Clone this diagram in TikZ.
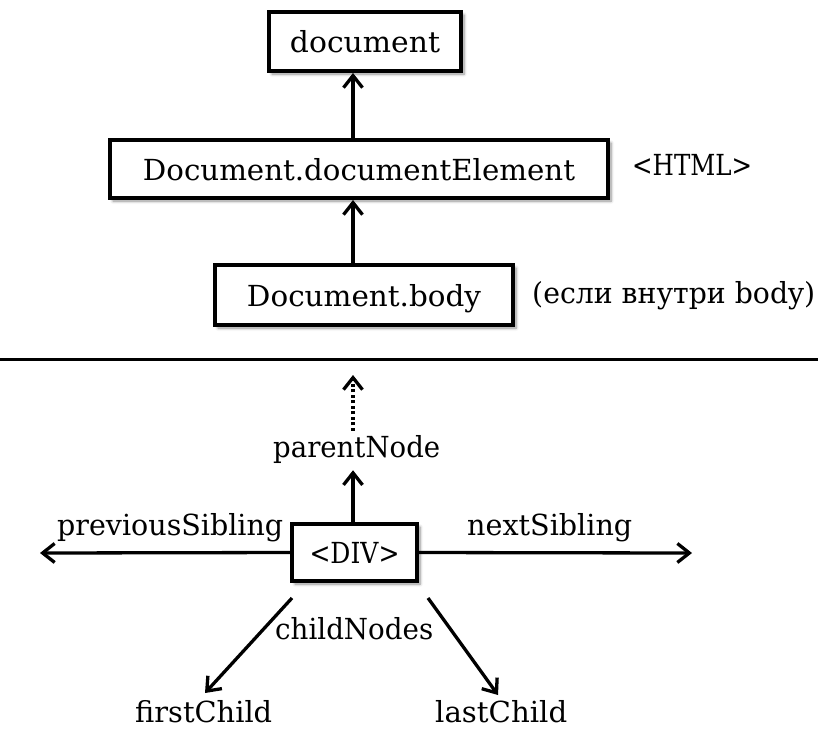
\documentclass[tikz,border=0pt]{standalone}
\usepackage{fontspec}
\setmainfont{DejaVu Serif}
\usepackage{graphicx}
\usetikzlibrary{arrows.meta,shadows.blur}
\newcommand{\fitw}[2]{\resizebox{#1pt}{\height}{#2}}
\begin{document}
\begin{tikzpicture}[x=1pt,y=-1pt,
  font=\fontsize{29}{34}\selectfont,
  box/.style={draw, line width=4pt, fill=white, inner sep=0pt, text depth=0pt,
    blur shadow={shadow xshift=3pt, shadow yshift=-3pt, shadow opacity=45, shadow blur steps=6, shadow blur radius=3pt}},
  lbl/.style={inner sep=0pt, anchor=base west},
  arr/.style={line width=3.3pt, -{Straight Barb[length=12pt,width=19pt,line width=3.3pt]}},
  dotarr/.style={arr, dash pattern=on 3pt off 2.5pt},
  sep/.style={line width=3pt},
]
\useasboundingbox (0,0) rectangle (818,729);
% boxes
\node[box, minimum width=192pt, minimum height=59pt] (doc) at (365,41.5) {\fitw{150}{document}};
\node[box, minimum width=498pt, minimum height=58pt] (docel) at (359,169) {\fitw{432}{Document.documentElement}};
\node[box, minimum width=298pt, minimum height=60pt] (body) at (364,295) {\fitw{234}{Document.body}};
\node[box, minimum width=125pt, minimum height=57pt] (div) at (354.5,552.5) {\fitw{90}{<DIV>}};
% labels
\node[lbl] (html) at (632,175) {\fitw{120}{<HTML>}};
\node[lbl] (ifbody) at (532,303) {\fitw{283}{(если внутри body)}};
\node[lbl] (pn) at (273,457) {\fitw{167}{parentNode}};
\node[lbl] (prev) at (57,535) {\fitw{226}{previousSibling}};
\node[lbl] (next) at (467,535) {\fitw{165}{nextSibling}};
\node[lbl] (cn) at (275,639) {\fitw{158}{childNodes}};
\node[lbl] (fc) at (135,722) {\fitw{137}{firstChild}};
\node[lbl] (lc) at (435,722) {\fitw{132}{lastChild}};
% coordinates
\coordinate (ax) at (353,0);
\coordinate (sepL) at (0,359);
\coordinate (sepR) at (818,359);
\coordinate (ptop) at (353,375);
\coordinate (pl) at (40,553);
\coordinate (pr) at (692,553);
\coordinate (d1s) at (292,598);
\coordinate (d1e) at (205,693);
\coordinate (d2s) at (428,598);
\coordinate (d2e) at (498,695);
% connectors
\draw[arr] (docel.north -| ax) -- (doc.south -| ax);
\draw[arr] (body.north -| ax) -- (docel.south -| ax);
\draw[sep] (sepL) -- (sepR);
\draw[dotarr, shorten <=4pt] (pn.north -| ax) -- (ptop);
\draw[arr, shorten >=7pt] (div.north -| ax) -- (pn.south -| ax);
\draw[arr] (div.west) -- (pl);
\draw[arr] (div.east) -- (pr);
\draw[arr] (d1s) -- (d1e);
\draw[arr] (d2s) -- (d2e);
\end{tikzpicture}
\end{document}
